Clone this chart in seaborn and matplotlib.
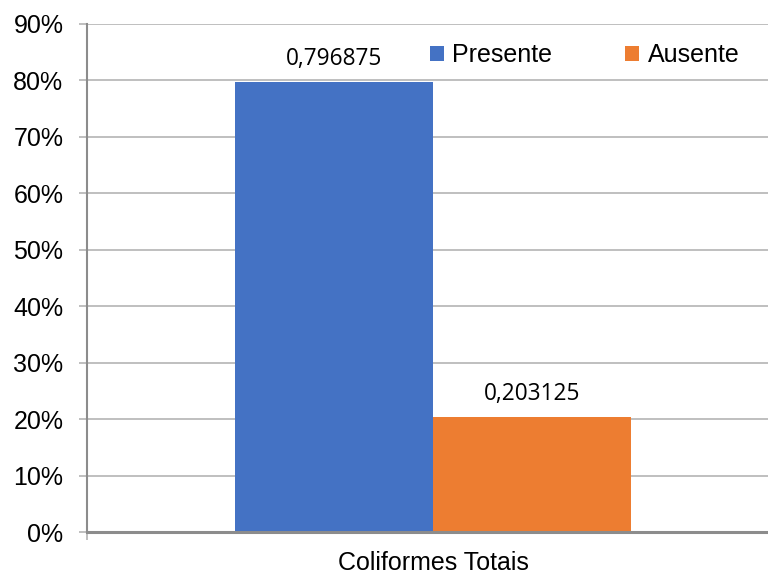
import matplotlib
matplotlib.use("Agg")
import matplotlib.pyplot as plt
import seaborn as sns
import pandas as pd
from matplotlib.patches import Patch
from matplotlib.ticker import FuncFormatter, FixedLocator

categorias = ["Coliformes Totais"]
grupos = ["Presente", "Ausente"]
valores = [0.796875, 0.203125]
cores = ["#4472C4", "#ED7D31"]
yticks = [0.0, 0.1, 0.2, 0.3, 0.4, 0.5, 0.6, 0.7, 0.8, 0.9]

df = pd.DataFrame({
    "categoria": categorias * len(grupos),
    "grupo": grupos,
    "valor": valores,
})

sns.set_theme(style="white")
plt.rcParams["font.family"] = ["Liberation Sans", "DejaVu Sans"]
plt.rcParams["text.color"] = "#000000"

W, H = 768, 575
fig = plt.figure(figsize=(W / 100, H / 100), dpi=100)
left, right, top, bottom = 87, 779, 24, 532
ax = fig.add_axes([left / W, (H - bottom) / H, (right - left) / W, (bottom - top) / H])

sns.barplot(data=df, x="categoria", y="valor", hue="grupo", hue_order=grupos,
            palette=cores, width=0.572, gap=0, saturation=1, ax=ax,
            legend=False, linewidth=0, errorbar=None)

ax.set_xlim(-0.5, 0.5)
ax.set_ylim(0, 0.9)
ax.set_xlabel("")
ax.set_ylabel("")

# grid and spines
ax.yaxis.set_major_locator(FixedLocator(yticks))
ax.yaxis.set_major_formatter(FuncFormatter(lambda v, p: f"{v * 100:.0f}%"))
ax.grid(axis="y", color="#b4b4b4", linewidth=1.2)
ax.set_axisbelow(True)
for s in ["top", "right"]:
    ax.spines[s].set_visible(False)
ax.spines["left"].set_color("#8c8c8c")
ax.spines["left"].set_linewidth(1.5)
ax.spines["bottom"].set_color("#8c8c8c")
ax.spines["bottom"].set_linewidth(2.2)

ax.tick_params(axis="y", which="major", left=True, length=6, width=1.2,
               color="#b4b4b4", labelsize=18, pad=11, labelcolor="#000000")
ax.tick_params(axis="x", which="major", bottom=False, length=0,
               labelsize=18, pad=14, labelcolor="#000000")
ax.xaxis.set_minor_locator(FixedLocator([-0.5]))
ax.tick_params(axis="x", which="minor", bottom=True, length=6, width=1.2,
               color="#b4b4b4")

# value labels above the bars
for bar, v in zip(ax.patches, valores):
    ax.annotate(f"{v:.6f}".replace(".", ","),
                (bar.get_x() + bar.get_width() / 2, bar.get_height()),
                xytext=(0, 16.5), textcoords="offset points",
                ha="center", va="center", fontsize=16.3,
                family=["Open Sans", "DejaVu Sans"], color="#000000")

handles = [Patch(facecolor=c, edgecolor="none", label=g) for g, c in zip(grupos, cores)]
leg = fig.legend(handles=handles, loc="center left", ncol=2, frameon=False,
                 bbox_to_anchor=(430 / W, 1 - 55 / H), bbox_transform=fig.transFigure,
                 fontsize=18, handlelength=0.55, handleheight=0.55,
                 handletextpad=0.35, columnspacing=2.9, borderpad=0, borderaxespad=0)
for t in leg.get_texts():
    t.set_color("#000000")

fig.savefig("out.png", dpi=100, facecolor="white")
